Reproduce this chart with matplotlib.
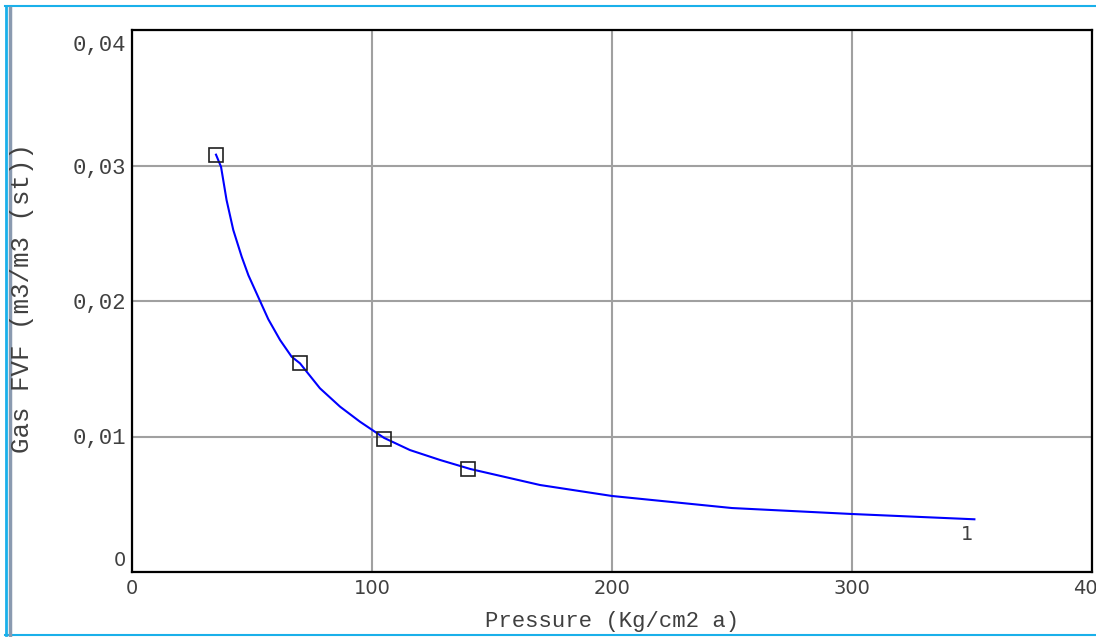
import numpy as np
import matplotlib
matplotlib.use("Agg")
import matplotlib.pyplot as plt
from matplotlib.lines import Line2D
from matplotlib.transforms import ScaledTranslation

# measured points (squares)
pressure_pts = [35, 70, 105, 140]
fvf_pts = [0.0308, 0.0154, 0.0098, 0.0076]

# curve
pressure_curve = [35, 37.1, 39.4, 42.2, 45.7, 48.5, 53.6, 56.8, 61.7, 66.5, 70,
                  78.3, 86.7, 95, 105, 115.8, 128.3, 141, 170, 200, 250, 300, 351]
fvf_curve = [0.0308, 0.0299, 0.02745, 0.02524, 0.02327, 0.0219, 0.0199, 0.01865,
             0.01712, 0.01589, 0.0154, 0.01356, 0.0122, 0.01109, 0.0099, 0.0090,
             0.00827, 0.0076, 0.00642, 0.00561, 0.00472, 0.00428, 0.00389]

xticks = [0, 100, 200, 300, 400]
yticks = [0, 0.01, 0.02, 0.03, 0.04]
ytick_labels = ["0", "0,01", "0,02", "0,03", "0,04"]

mono = "Liberation Mono"
sans = "DejaVu Sans"
txt_col = "#404040"

fig = plt.figure(figsize=(10.96, 6.37), dpi=100)
ax = fig.add_axes([132 / 1096, 1 - 572 / 637, 960 / 1096, 542 / 637])

ax.plot(pressure_curve, fvf_curve, color="#0000ff", lw=1.5, zorder=3)
ax.plot(pressure_pts, fvf_pts, ls="none", marker="s", ms=10.5, mfc="none",
        mec="#202020", mew=1.2, zorder=4)
ax.text(pressure_curve[-1] - 0.5, fvf_curve[-1] - 0.0004, "1", ha="right", va="top",
        fontsize=14, family=sans, color=txt_col)

ax.set_xlim(0, 400)
ax.set_ylim(0, 0.04)
ax.set_xticks(xticks)
ax.set_xticklabels([str(v) for v in xticks])
ax.set_yticks(yticks)
ax.set_yticklabels(ytick_labels)
ax.tick_params(length=0)
ax.tick_params(axis="y", pad=4)
ax.tick_params(axis="x", pad=5)
ax.grid(True, color="#a0a0a0", lw=1.5)
for s in ax.spines.values():
    s.set_linewidth(1.6)
    s.set_color("black")

for lab in ax.get_xticklabels():
    lab.set_fontfamily(sans)
    lab.set_fontsize(14)
    lab.set_color(txt_col)
ylabs = ax.get_yticklabels()
for i, lab in enumerate(ylabs):
    if i == 0:
        lab.set_fontfamily(sans)
        lab.set_fontsize(14)
        lab.set_transform(lab.get_transform() + ScaledTranslation(0, 0.13, fig.dpi_scale_trans))
    else:
        lab.set_fontfamily(mono)
        lab.set_fontsize(16)
    lab.set_color(txt_col)
ylabs[-1].set_transform(ylabs[-1].get_transform() + ScaledTranslation(0, -0.13, fig.dpi_scale_trans))

fig.text(612 / 1096, 1 - 622 / 637, "Pressure (Kg/cm2 a)", ha="center", va="center",
         family=mono, fontsize=16, color=txt_col)
fig.text(22 / 1096, 1 - 298 / 637, "Gas FVF (m3/m3 (st))", rotation=90, ha="center",
         va="center", family=mono, fontsize=18.5, color=txt_col)

# window frame
blue = "#1ab0ea"
fig.add_artist(Line2D([5 / 1096, 1], [1 - 6 / 637] * 2, color=blue, lw=1.5))
fig.add_artist(Line2D([5 / 1096, 1], [1 - 635 / 637] * 2, color=blue, lw=1.5))
fig.add_artist(Line2D([6 / 1096] * 2, [1 - 635 / 637, 1 - 6 / 637], color=blue, lw=2))
fig.add_artist(Line2D([9.5 / 1096] * 2, [1 - 635 / 637, 1 - 8 / 637], color="#8a9ab0", lw=2.5))

fig.savefig("out.png", dpi=100)
